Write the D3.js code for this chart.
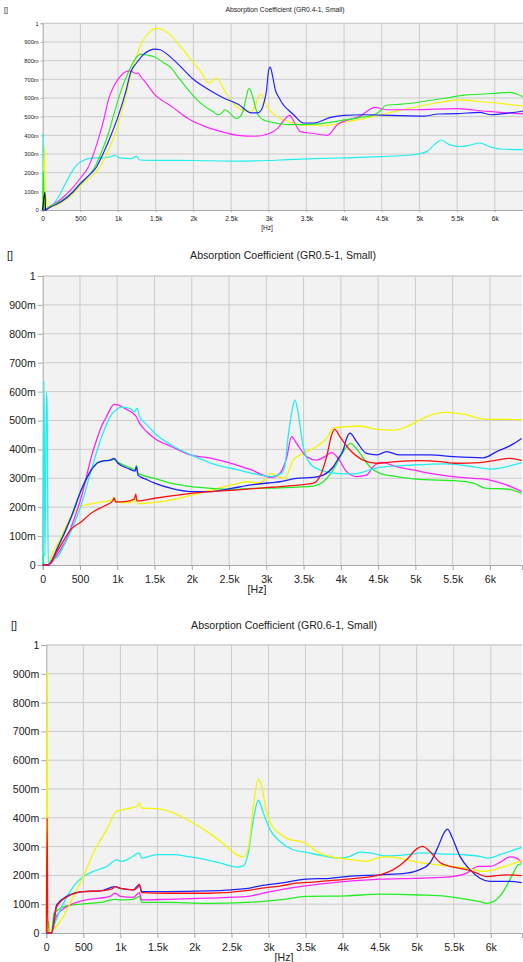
<!DOCTYPE html>
<html>
<head>
<meta charset="utf-8">
<script src="https://cdn.jsdelivr.net/npm/d3@7"></script>
<style>
  body { margin: 0; background: #fff; }
  svg { display: block; font-family: "Liberation Sans", Arial, sans-serif; }
</style>
</head>
<body>
<div id="chart"></div>
<script>
// Axis ticks and labels
const freqTicks = [0, 500, 1000, 1500, 2000, 2500, 3000, 3500, 4000, 4500, 5000, 5500, 6000];
const freqLabels = ["0", "500", "1k", "1.5k", "2k", "2.5k", "3k", "3.5k", "4k", "4.5k", "5k", "5.5k", "6k"];
const alphaTicks = [0, 0.1, 0.2, 0.3, 0.4, 0.5, 0.6, 0.7, 0.8, 0.9, 1];
const alphaLabels = ["0", "100m", "200m", "300m", "400m", "500m", "600m", "700m", "800m", "900m", "1"];
const titles = [
    "Absorption Coefficient (GR0.4-1, Small)",
    "Absorption Coefficient (GR0.5-1, Small)",
    "Absorption Coefficient (GR0.6-1, Small)"
];

// Series colours
const colors = {
    yellow: "#f5f500", blue: "#2020ff", green: "#22ee22",
    magenta: "#ff22ff", cyan: "#22eeee", red: "#ff1010", black: "#000000"
};

// ---- GR0.4-1 : [frequency Hz, absorption coefficient]
const gr04Cyan = [[0,0],[5,0.41],[12,0.02],[30,0],[60,0.01],[115,0.02],[200,0.064],[300,0.14],[380,0.2],[450,0.24],[513,0.26],[646,0.278],[823,0.28],[900,0.285],[955,0.293],[1022,0.279],[1177,0.275],[1243,0.287],[1288,0.268],[1500,0.266],[2000,0.265],[2593,0.262],[3000,0.265],[3257,0.27],[3600,0.275],[4030,0.279],[4470,0.286],[4920,0.296],[5100,0.314],[5200,0.35],[5290,0.375],[5400,0.35],[5550,0.34],[5660,0.346],[5800,0.359],[5930,0.34],[6070,0.327],[6400,0.323]];
const gr04Yellow = [[0,0],[25,0.34],[32,0.08],[45,0.07],[60,0.02],[100,0.015],[250,0.04],[400,0.085],[500,0.13],[600,0.165],[700,0.2],[761,0.232],[850,0.3],[960,0.41],[1050,0.53],[1120,0.64],[1180,0.74],[1250,0.83],[1320,0.9],[1400,0.945],[1513,0.973],[1600,0.965],[1700,0.935],[1800,0.89],[1900,0.84],[2000,0.79],[2100,0.74],[2203,0.68],[2250,0.69],[2292,0.707],[2330,0.7],[2400,0.65],[2500,0.585],[2600,0.545],[2700,0.53],[2770,0.53],[2830,0.57],[2880,0.62],[2920,0.61],[2970,0.56],[3050,0.52],[3150,0.49],[3300,0.47],[3460,0.454],[3800,0.454],[4000,0.47],[4270,0.49],[4700,0.53],[5100,0.564],[5550,0.59],[5800,0.58],[6100,0.57],[6400,0.555]];
const gr04Magenta = [[0,0],[30,0],[60,0.01],[100,0.02],[250,0.06],[400,0.12],[500,0.17],[606,0.23],[700,0.33],[761,0.41],[820,0.5],[872,0.59],[940,0.66],[1000,0.7],[1080,0.735],[1140,0.745],[1200,0.738],[1240,0.73],[1265,0.734],[1300,0.715],[1400,0.665],[1487,0.618],[1600,0.583],[1708,0.555],[1929,0.49],[2150,0.448],[2372,0.42],[2593,0.4],[2814,0.395],[2991,0.407],[3124,0.44],[3200,0.48],[3280,0.507],[3340,0.47],[3420,0.42],[3600,0.41],[3780,0.4],[3910,0.457],[4030,0.48],[4200,0.5],[4410,0.55],[4560,0.537],[4920,0.537],[5500,0.543],[5900,0.528],[6400,0.514]];
const gr04Green = [[0,0],[10,0.21],[18,0],[40,0],[60,0.005],[100,0.02],[250,0.05],[400,0.1],[500,0.145],[600,0.18],[695,0.232],[780,0.31],[872,0.41],[950,0.52],[1050,0.65],[1150,0.75],[1230,0.81],[1300,0.835],[1380,0.83],[1487,0.82],[1600,0.79],[1708,0.76],[1800,0.71],[1929,0.645],[2050,0.59],[2150,0.555],[2250,0.53],[2327,0.51],[2380,0.52],[2416,0.537],[2450,0.53],[2482,0.52],[2530,0.5],[2570,0.49],[2620,0.5],[2660,0.53],[2700,0.6],[2735,0.65],[2760,0.64],[2792,0.6],[2830,0.54],[2858,0.51],[2920,0.485],[2991,0.475],[3100,0.465],[3257,0.457],[3600,0.46],[4030,0.484],[4200,0.495],[4400,0.51],[4480,0.53],[4550,0.56],[4700,0.565],[4920,0.573],[5100,0.585],[5360,0.6],[5600,0.615],[5800,0.62],[6000,0.625],[6200,0.63],[6300,0.62],[6400,0.6]];
const gr04Blue = [[0,0],[40,0],[60,0.005],[100,0.015],[250,0.045],[400,0.095],[500,0.14],[600,0.18],[717,0.232],[800,0.3],[916,0.41],[1000,0.5],[1100,0.63],[1170,0.74],[1250,0.79],[1330,0.83],[1420,0.855],[1491,0.862],[1560,0.858],[1650,0.835],[1800,0.78],[2000,0.7],[2200,0.645],[2400,0.6],[2600,0.565],[2770,0.52],[2850,0.52],[2903,0.537],[2940,0.58],[2969,0.636],[3000,0.75],[3020,0.765],[3050,0.72],[3090,0.64],[3124,0.61],[3200,0.56],[3257,0.537],[3330,0.51],[3460,0.466],[3600,0.466],[3820,0.496],[4000,0.507],[4270,0.51],[4620,0.507],[5070,0.503],[5250,0.514],[5500,0.516],[5800,0.523],[5950,0.51],[6200,0.52],[6400,0.532]];
const gr04Black = [[0,0],[30,0.095],[36,0],[45,0]];

// ---- GR0.5-1
const gr05Yellow = [[0,0],[72,0],[130,0.04],[206,0.075],[385,0.17],[496,0.2],[608,0.21],[832,0.22],[940,0.225],[957,0.235],[975,0.222],[1100,0.215],[1240,0.222],[1257,0.228],[1279,0.212],[1726,0.225],[2173,0.254],[2531,0.277],[2755,0.288],[2889,0.283],[2979,0.294],[3068,0.317],[3157,0.305],[3250,0.3],[3361,0.363],[3496,0.386],[3674,0.41],[3809,0.438],[3898,0.473],[4077,0.479],[4256,0.481],[4479,0.469],[4703,0.467],[4882,0.479],[5060,0.502],[5284,0.525],[5418,0.528],[5642,0.522],[5955,0.504],[6223,0.504],[6425,0.502]];
const gr05Green = [[0,0],[5,0.04],[12,0],[72,0],[206,0.065],[385,0.17],[519,0.262],[653,0.33],[742,0.355],[832,0.36],[957,0.365],[1011,0.355],[1145,0.34],[1240,0.33],[1257,0.345],[1279,0.317],[1503,0.3],[1726,0.283],[1995,0.271],[2263,0.265],[2531,0.262],[2800,0.265],[3182,0.267],[3630,0.273],[3764,0.288],[3898,0.329],[4032,0.392],[4130,0.421],[4256,0.386],[4390,0.34],[4524,0.317],[4748,0.306],[5060,0.296],[5508,0.292],[5776,0.283],[5955,0.265],[6223,0.263],[6425,0.248]];
const gr05Magenta = [[0,0],[72,0],[206,0.04],[300,0.08],[385,0.133],[450,0.18],[519,0.236],[600,0.32],[653,0.375],[720,0.43],[787,0.479],[850,0.51],[899,0.536],[957,0.556],[1011,0.554],[1100,0.542],[1212,0.525],[1257,0.513],[1301,0.49],[1400,0.46],[1503,0.438],[1726,0.41],[1995,0.38],[2263,0.369],[2531,0.352],[2800,0.329],[3068,0.303],[3157,0.311],[3215,0.33],[3272,0.37],[3339,0.444],[3406,0.421],[3540,0.375],[3674,0.363],[3786,0.375],[3876,0.389],[3965,0.369],[4077,0.323],[4211,0.306],[4345,0.311],[4434,0.34],[4546,0.355],[4748,0.34],[4971,0.329],[5195,0.317],[5508,0.306],[5776,0.3],[6000,0.294],[6223,0.277],[6425,0.254]];
const gr05Cyan = [[0,0],[18,0.637],[30,0.03],[50,0.596],[58,0.56],[75,0],[100,0.01],[206,0.03],[300,0.075],[385,0.12],[519,0.21],[653,0.33],[787,0.44],[921,0.52],[1000,0.54],[1055,0.546],[1167,0.542],[1234,0.53],[1266,0.542],[1301,0.513],[1400,0.485],[1503,0.456],[1726,0.415],[1995,0.38],[2263,0.352],[2620,0.329],[2844,0.315],[3068,0.306],[3202,0.317],[3250,0.345],[3290,0.44],[3339,0.525],[3384,0.571],[3428,0.525],[3470,0.45],[3496,0.41],[3585,0.352],[3719,0.329],[3943,0.317],[4166,0.315],[4390,0.329],[4524,0.338],[4971,0.346],[5418,0.35],[5776,0.34],[6000,0.332],[6223,0.34],[6425,0.354]];
const gr05Blue = [[0,0],[72,0],[206,0.063],[385,0.167],[519,0.26],[600,0.305],[653,0.329],[742,0.354],[832,0.361],[900,0.362],[957,0.369],[1011,0.352],[1145,0.334],[1240,0.325],[1257,0.34],[1279,0.311],[1400,0.295],[1503,0.283],[1726,0.265],[1995,0.254],[2263,0.254],[2531,0.265],[2800,0.277],[3068,0.285],[3182,0.288],[3406,0.3],[3630,0.303],[3764,0.311],[3898,0.34],[3970,0.37],[4032,0.398],[4080,0.44],[4122,0.456],[4211,0.427],[4345,0.386],[4479,0.381],[4613,0.392],[4792,0.381],[5195,0.381],[5508,0.375],[5911,0.371],[6090,0.392],[6313,0.419],[6425,0.438]];
const gr05Red = [[0,0],[72,0],[206,0.052],[385,0.125],[519,0.15],[653,0.18],[832,0.205],[940,0.222],[957,0.232],[980,0.218],[1100,0.219],[1230,0.228],[1248,0.245],[1265,0.222],[1503,0.231],[1726,0.239],[1995,0.248],[2263,0.254],[2620,0.26],[3068,0.269],[3451,0.277],[3630,0.283],[3719,0.306],[3809,0.375],[3876,0.45],[3920,0.469],[3987,0.444],[4122,0.398],[4300,0.363],[4479,0.352],[4748,0.358],[5060,0.361],[5329,0.358],[5553,0.352],[5866,0.354],[6090,0.363],[6268,0.369],[6425,0.361]];

// ---- GR0.6-1
const gr06Green = [[0,0],[30,0.04],[40,0],[70,0],[104,0.068],[275,0.094],[500,0.101],[725,0.106],[928,0.117],[1000,0.115],[1175,0.117],[1256,0.127],[1288,0.106],[1625,0.106],[2175,0.103],[2725,0.106],[2885,0.109],[3153,0.115],[3513,0.127],[4054,0.129],[4504,0.135],[5044,0.132],[5404,0.127],[5674,0.117],[5854,0.109],[5944,0.103],[6034,0.109],[6169,0.144],[6304,0.208],[6371,0.237],[6416,0.24]];
const gr06Magenta = [[0,0],[70,0],[140,0.06],[275,0.091],[500,0.113],[725,0.121],[860,0.127],[928,0.138],[1000,0.127],[1175,0.124],[1256,0.14],[1288,0.115],[1625,0.117],[2175,0.121],[2725,0.127],[2885,0.136],[3153,0.15],[3603,0.167],[4054,0.179],[4504,0.187],[4954,0.19],[5404,0.194],[5674,0.208],[5831,0.231],[5989,0.231],[6124,0.245],[6259,0.264],[6349,0.26],[6416,0.245]];
const gr06Cyan = [[0,0],[60,0],[95,0.022],[230,0.103],[365,0.161],[500,0.196],[635,0.214],[815,0.231],[950,0.254],[1017,0.249],[1130,0.26],[1256,0.278],[1287,0.26],[1490,0.272],[1715,0.272],[1940,0.264],[2165,0.254],[2390,0.24],[2570,0.229],[2660,0.233],[2727,0.278],[2795,0.394],[2862,0.461],[2930,0.417],[3020,0.359],[3155,0.318],[3333,0.289],[3513,0.28],[3738,0.268],[3963,0.26],[4099,0.266],[4234,0.281],[4369,0.278],[4594,0.268],[4864,0.272],[5089,0.278],[5314,0.275],[5629,0.272],[5854,0.266],[5966,0.26],[6124,0.272],[6416,0.297]];
const gr06Yellow = [[0,0],[10,0.905],[14,0.02],[60,0],[95,0.01],[230,0.057],[365,0.127],[500,0.196],[635,0.278],[815,0.359],[950,0.423],[1085,0.431],[1220,0.44],[1256,0.452],[1287,0.434],[1490,0.432],[1715,0.417],[1940,0.388],[2165,0.353],[2390,0.31],[2570,0.272],[2660,0.264],[2727,0.295],[2795,0.44],[2862,0.533],[2907,0.51],[2975,0.417],[3065,0.365],[3153,0.345],[3288,0.324],[3423,0.318],[3513,0.31],[3648,0.283],[3828,0.266],[4009,0.258],[4189,0.252],[4324,0.249],[4459,0.26],[4594,0.264],[4774,0.26],[4954,0.249],[5179,0.24],[5404,0.233],[5674,0.225],[5899,0.214],[6034,0.219],[6258,0.237],[6416,0.251]];
const gr06Blue = [[0,0],[70,0],[140,0.098],[275,0.127],[500,0.144],[725,0.146],[928,0.161],[1000,0.155],[1175,0.15],[1256,0.168],[1288,0.144],[1625,0.144],[2175,0.146],[2725,0.155],[2885,0.164],[3153,0.173],[3513,0.187],[3828,0.19],[4054,0.196],[4504,0.202],[4864,0.208],[5044,0.22],[5179,0.243],[5291,0.301],[5381,0.353],[5417,0.361],[5471,0.336],[5584,0.266],[5719,0.22],[5854,0.19],[5989,0.179],[6259,0.179],[6416,0.175]];
const gr06Red = [[0,0],[12,0.4],[20,0],[70,0],[140,0.09],[275,0.125],[500,0.144],[725,0.146],[880,0.152],[928,0.161],[1000,0.155],[1175,0.15],[1240,0.16],[1256,0.17],[1288,0.14],[1625,0.138],[2175,0.138],[2725,0.148],[2885,0.155],[3153,0.163],[3378,0.173],[3603,0.177],[4054,0.187],[4504,0.202],[4684,0.22],[4864,0.254],[4999,0.292],[5080,0.301],[5179,0.283],[5314,0.245],[5494,0.229],[5674,0.22],[5809,0.208],[5944,0.196],[6214,0.202],[6416,0.199]];

// Panel layout
const panels = [
    { title: titles[0], x0: 42.7, px500: 37.67, right: 523, top: 23.3, bottom: 210,
      titleX: 285, titleY: 12, bracketX: 4, fontTitle: 6.8, fontY: 5.8, fontX: 6.6,
      labelGap: 3, tick: 2, xLabelY: 220.5, hzX: 267, hzY: 230, lineW: 1.15,
      series: [[gr04Cyan, "cyan"], [gr04Yellow, "yellow"], [gr04Magenta, "magenta"],
               [gr04Green, "green"], [gr04Blue, "blue"], [gr04Black, "black"]] },
    { title: titles[1], x0: 42.7, px500: 37.27, right: 522, top: 276, bottom: 565,
      titleX: 283, titleY: 259, bracketX: 7, fontTitle: 10.6, fontY: 10.6, fontX: 10.6,
      labelGap: 6, tick: 5, xLabelY: 583, hzX: 257, hzY: 593, lineW: 1.3,
      series: [[gr05Yellow, "yellow"], [gr05Green, "green"], [gr05Magenta, "magenta"],
               [gr05Cyan, "cyan"], [gr05Blue, "blue"], [gr05Red, "red"]] },
    { title: titles[2], x0: 46.3, px500: 37.04, right: 522, top: 645, bottom: 933,
      titleX: 284, titleY: 629, bracketX: 11, fontTitle: 10.6, fontY: 10.6, fontX: 10.6,
      labelGap: 6, tick: 5, xLabelY: 951, hzX: 284, hzY: 961, lineW: 1.3,
      series: [[gr06Green, "green"], [gr06Magenta, "magenta"], [gr06Cyan, "cyan"],
               [gr06Yellow, "yellow"], [gr06Blue, "blue"], [gr06Red, "red"]] }
];

const svg = d3.select('#chart')
    .append('svg')
    .attr('width', 523)
    .attr('height', 962);

function drawPanel(p, idx) {
    const fMax = (p.right - p.x0) / p.px500 * 500;
    const x = d3.scaleLinear().domain([0, fMax]).range([p.x0, p.right]);
    const y = d3.scaleLinear().domain([0, 1]).range([p.bottom, p.top]);
    const g = svg.append('g');

    // plot background
    g.append('rect')
        .attr('x', p.x0).attr('y', p.top)
        .attr('width', p.right - p.x0).attr('height', p.bottom - p.top)
        .attr('fill', '#f2f2f2');

    // grid lines
    g.append('g').selectAll('line')
        .data(alphaTicks.slice(1))
        .join('line')
        .attr('x1', p.x0).attr('x2', p.right)
        .attr('y1', d => y(d)).attr('y2', d => y(d))
        .attr('stroke', '#cbcbcb').attr('stroke-width', 1);
    g.append('g').selectAll('line')
        .data(freqTicks.slice(1))
        .join('line')
        .attr('x1', d => x(d)).attr('x2', d => x(d))
        .attr('y1', p.top).attr('y2', p.bottom)
        .attr('stroke', '#cbcbcb').attr('stroke-width', 1);

    // top border
    g.append('line')
        .attr('x1', p.x0).attr('x2', p.right)
        .attr('y1', p.top).attr('y2', p.top)
        .attr('stroke', '#d0d0d0');

    // axes
    const yAxis = d3.axisLeft(y)
        .tickValues(alphaTicks)
        .tickFormat((d, i) => alphaLabels[i])
        .tickSize(p.tick).tickPadding(p.labelGap - p.tick + 1);
    const gy = g.append('g').attr('transform', `translate(${p.x0},0)`).call(yAxis);
    gy.select('.domain').attr('stroke', '#a8a8a8');
    gy.selectAll('.tick line').attr('stroke', '#a8a8a8');
    gy.selectAll('text').attr('font-size', p.fontY).attr('fill', '#222')
        .attr('font-family', '"Liberation Sans", Arial, sans-serif');

    const xAxis = d3.axisBottom(x)
        .tickValues(freqTicks)
        .tickFormat((d, i) => freqLabels[i])
        .tickSize(p.tick).tickPadding(0);
    const gx = g.append('g').attr('transform', `translate(0,${p.bottom})`).call(xAxis);
    gx.select('.domain').attr('stroke', '#a8a8a8');
    gx.selectAll('.tick line').attr('stroke', '#a8a8a8');
    gx.selectAll('text')
        .attr('y', p.xLabelY - p.bottom).attr('dy', 0)
        .attr('font-size', p.fontX).attr('fill', '#222')
        .attr('font-family', '"Liberation Sans", Arial, sans-serif');

    // titles
    g.append('text')
        .attr('x', p.titleX).attr('y', p.titleY)
        .attr('text-anchor', 'middle')
        .attr('font-size', p.fontTitle).attr('fill', '#222')
        .text(p.title);
    g.append('text')
        .attr('x', p.bracketX).attr('y', p.titleY)
        .attr('font-size', p.fontTitle).attr('fill', '#222')
        .text('[]');
    g.append('text')
        .attr('x', p.hzX).attr('y', p.hzY)
        .attr('text-anchor', 'middle')
        .attr('font-size', p.fontX).attr('fill', '#222')
        .text('[Hz]');

    // series
    const clipId = 'clip' + idx;
    svg.append('clipPath').attr('id', clipId)
        .append('rect')
        .attr('x', p.x0 - 1).attr('y', p.top)
        .attr('width', p.right - p.x0 + 1).attr('height', p.bottom - p.top + 1);

    const line = d3.line()
        .x(d => x(d[0]))
        .y(d => y(d[1]))
        .curve(d3.curveMonotoneX);

    g.append('g').attr('clip-path', `url(#${clipId})`)
        .selectAll('path')
        .data(p.series)
        .join('path')
        .attr('d', d => line(d[0]))
        .attr('fill', 'none')
        .attr('stroke', d => colors[d[1]])
        .attr('stroke-width', p.lineW)
        .attr('stroke-linejoin', 'round');
}

panels.forEach(drawPanel);
</script>
</body>
</html>
